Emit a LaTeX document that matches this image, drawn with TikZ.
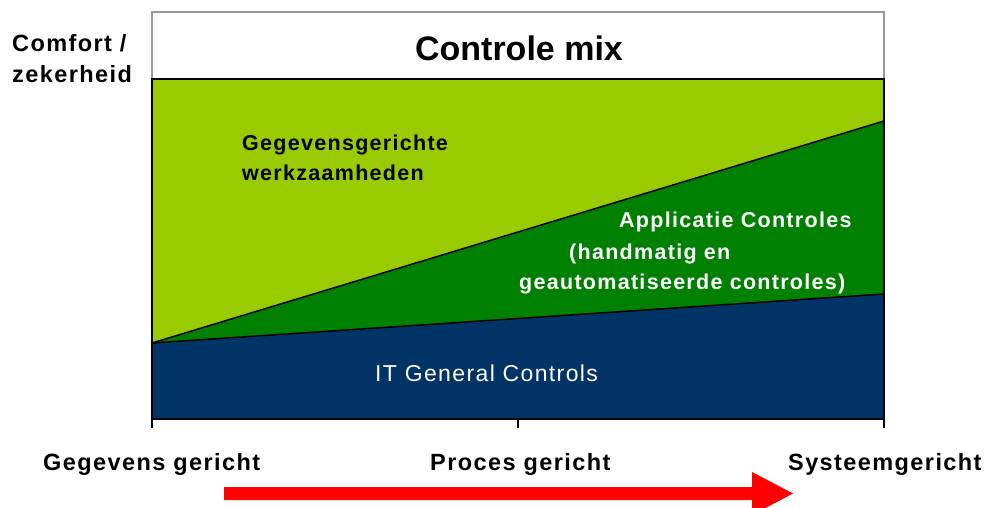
\documentclass[tikz,border=0pt]{standalone}
\usepackage{fontspec}
\setmainfont{Liberation Sans}
\newfontfamily\lblfont[LetterSpace=6]{Liberation Sans}
\definecolor{lightgreen}{HTML}{99CC00}
\definecolor{darkgreen}{HTML}{008000}
\definecolor{navy}{HTML}{003366}
\definecolor{arrowred}{HTML}{FF0000}
\begin{document}
\begin{tikzpicture}[
        x=1pt, y=-1pt,
        lbl/.style={inner sep=0pt, anchor=base west, font=\lblfont\bfseries\fontsize{23.5}{28}\selectfont},
        inlbl/.style={inner sep=0pt, anchor=base west, font=\lblfont\bfseries\fontsize{21.5}{26}\selectfont},
        edge/.style={draw=black, line width=1.5pt}
    ]
        \useasboundingbox (0,0) rectangle (986,508);

        % Title box
        \draw[fill=white, draw=gray!80, line width=1.5pt] (152,12) rectangle (884,79);
        \node[inner sep=0pt, anchor=base, font=\bfseries\fontsize{34}{40}\selectfont] (title) at (519,61) {Controle mix};

        % Areas
        \coordinate (tl) at (152,79);
        \coordinate (tr) at (884,79);
        \coordinate (bl) at (152,419);
        \coordinate (br) at (884,419);
        \coordinate (start) at (152,343);
        \coordinate (apptop) at (884,121);
        \coordinate (itgtop) at (884,294);
        \fill[lightgreen] (tl) rectangle (br);
        \fill[darkgreen] (start) -- (apptop) -- (itgtop) -- cycle;
        \fill[navy] (start) -- (itgtop) -- (br) -- (bl) -- cycle;
        \draw[edge] (start) -- (apptop);
        \draw[edge] (start) -- (itgtop);
        \draw[edge, line width=2pt] (bl) -- (tl) -- (tr) -- (br);
        \draw[edge, line width=2.5pt] (bl) -- (br);

        % Ticks
        \foreach \tx in {152,518,884}
            \draw[line width=2pt] (\tx,419) -- (\tx,428);

        % Area labels
        \node[inlbl] (data1) at (242,151) {Gegevensgerichte};
        \node[inlbl] (data2) at (242,181) {werkzaamheden};
        \node[inlbl, text=white] (app1) at (619,228) {Applicatie Controles};
        \node[inlbl, text=white] (app2) at (569,259) {(handmatig en};
        \node[inlbl, text=white] (app3) at (519,289) {geautomatiseerde controles)};
        \node[inner sep=0pt, anchor=base west, text=white, font=\lblfont\fontsize{23}{27}\selectfont] (itgc) at (375,381) {IT General Controls};

        % Axis labels
        \node[lbl] (comfort) at (12,52) {Comfort /};
        \node[lbl] (zeker) at (12,83) {zekerheid};
        \node[lbl] (xdata) at (43,470) {Gegevens gericht};
        \node[lbl] (xproc) at (430,470) {Proces gericht};
        \node[lbl] (xsys) at (788,470) {Systeemgericht};

        % Red arrow
        \coordinate (tail) at (224,493.5);
        \coordinate (tip) at (793,493.5);
        \fill[arrowred] (224,487) -- (752,487) -- (752,472) -- (tip) -- (752,515) -- (752,500) -- (224,500) -- cycle;
    \end{tikzpicture}
\end{document}
